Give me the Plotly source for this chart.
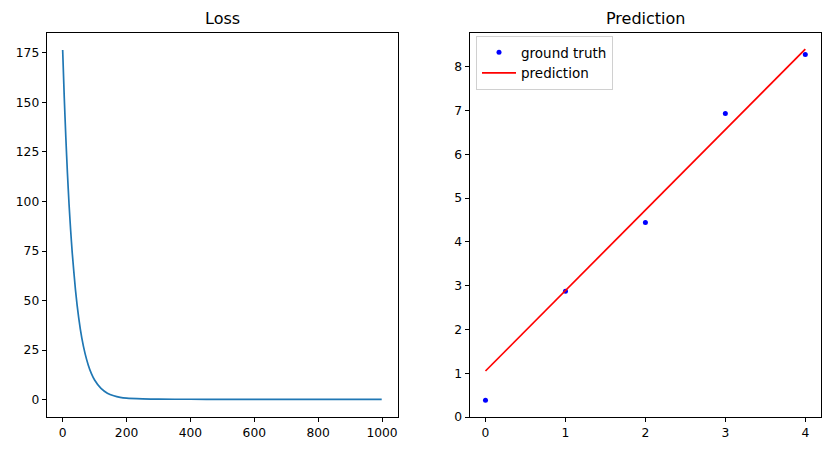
import plotly.graph_objects as go
from plotly.subplots import make_subplots

# loss curve
loss_steps = [0, 5, 10, 15, 20, 25, 30, 40, 50, 60, 70, 80, 90, 100, 120, 140,
              160, 180, 200, 250, 300, 400, 500, 600, 700, 800, 900, 999]
loss_values = [176.5, 152.5, 132.0, 114.0, 98.5, 85.5, 74.0, 55.5, 41.5, 31.0,
               23.3, 17.5, 13.1, 9.9, 5.6, 3.2, 1.9, 1.1, 0.68, 0.32, 0.2,
               0.15, 0.14, 0.14, 0.14, 0.14, 0.14, 0.14]

# prediction panel
x_points = [0, 1, 2, 3, 4]
ground_truth = [0.38, 2.87, 4.44, 6.93, 8.28]
prediction = [1.05, 2.89, 4.72, 6.56, 8.40]

# the page body has an 8px margin, so the figure is 16px smaller than the window
W, H = 815, 435
OFF = 8
font = "DejaVu Sans"


def px_x(p):
    return (p - OFF) / W


def px_y(p):
    return 1 - (p - OFF) / H


fig = make_subplots(rows=1, cols=2)

fig.add_trace(go.Scatter(x=loss_steps, y=loss_values, mode="lines",
                         line=dict(color="#1f77b4", width=1.7, shape="spline",
                                   smoothing=0.6),
                         showlegend=False), row=1, col=1)
fig.add_trace(go.Scatter(x=x_points, y=ground_truth, mode="markers",
                         marker=dict(color="blue", size=5),
                         name="ground truth"), row=1, col=2)
fig.add_trace(go.Scatter(x=x_points, y=prediction, mode="lines",
                         line=dict(color="red", width=1.7),
                         name="prediction"), row=1, col=2)

axis_style = dict(showline=True, linecolor="black", linewidth=1, mirror=True,
                  ticks="outside", ticklen=4, tickcolor="black",
                  showgrid=False, zeroline=False, automargin=False,
                  tickfont=dict(family=font, size=12.3, color="black"))

ydom = [px_y(417), px_y(32.5)]
fig.update_xaxes(axis_style)
fig.update_yaxes(axis_style)
fig.update_xaxes(domain=[px_x(46.7), px_x(398)], range=[-50, 1050],
                 tickvals=[0, 200, 400, 600, 800, 1000], row=1, col=1)
fig.update_yaxes(domain=ydom, range=[-8.8, 185.3],
                 tickvals=[0, 25, 50, 75, 100, 125, 150, 175], row=1, col=1)
fig.update_xaxes(domain=[px_x(469.5), px_x(821.3)], range=[-0.2, 4.2],
                 tickvals=[0, 1, 2, 3, 4], row=1, col=2)
fig.update_yaxes(domain=ydom, range=[0, 8.78],
                 tickvals=list(range(9)), row=1, col=2)

for title, cx in [("Loss", 222), ("Prediction", 645)]:
    fig.add_annotation(text=title, x=px_x(cx), y=px_y(18.5), xref="paper",
                       yref="paper", showarrow=False, xanchor="center",
                       yanchor="middle",
                       font=dict(family=font, size=16, color="black"))

fig.update_layout(
    width=W, height=H,
    margin=dict(l=0, r=0, t=0, b=0),
    plot_bgcolor="white", paper_bgcolor="white",
    font=dict(family=font, size=12, color="black"),
    legend=dict(x=px_x(476), y=px_y(36), xanchor="left", yanchor="top",
                bordercolor="#d0d0d0", borderwidth=1, bgcolor="white",
                font=dict(family=font, size=13.5, color="black"),
                itemwidth=34, tracegroupgap=0),
)

fig.write_html("out.html")
